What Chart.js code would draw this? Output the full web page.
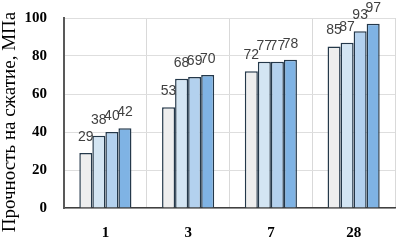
<!DOCTYPE html>
<html>
<head>
<meta charset="utf-8">
<script src="https://cdn.jsdelivr.net/npm/chart.js@4"></script>
<style>
  html, body { margin: 0; padding: 0; background: #fff; }
  #wrap { width: 397px; height: 240px; }
</style>
</head>
<body>
<div id="wrap"><canvas id="chart" width="397" height="240"></canvas></div>
<script>
// данные
const days = ['1', '3', '7', '28'];
const serie1 = [29, 53, 72, 85];
const serie2 = [38, 68, 77, 87];
const serie3 = [40, 69, 77, 93];
const serie4 = [42, 70, 78, 97];
const yTitle = 'Прочность на сжатие, МПа';

const colores = ['#eeeeee', '#d3e5f3', '#b3d1ee', '#7fb3e4'];
const borde = '#24384a';

// etiquetas encima de cada barra
const etiquetas = {
    id: 'etiquetas',
    afterDatasetsDraw(chart) {
        const ctx = chart.ctx;
        ctx.save();
        ctx.font = '14px "Liberation Sans", Arial, sans-serif';
        ctx.fillStyle = '#404040';
        ctx.textAlign = 'center';
        ctx.textBaseline = 'middle';
        chart.data.datasets.forEach((ds, i) => {
            chart.getDatasetMeta(i).data.forEach((bar, j) => {
                ctx.fillText(String(ds.data[j]), bar.x, bar.y - 16);
            });
        });
        ctx.restore();
    }
};

// título del eje Y (rotado, a la izquierda)
const tituloY = {
    id: 'tituloY',
    afterDraw(chart) {
        const ctx = chart.ctx;
        ctx.save();
        ctx.translate(10, 122);
        ctx.rotate(-Math.PI / 2);
        ctx.font = '19px "Liberation Serif", "Times New Roman", serif';
        ctx.fillStyle = '#000';
        ctx.textAlign = 'center';
        ctx.textBaseline = 'middle';
        ctx.fillText(yTitle, 0, 0);
        ctx.restore();
    }
};

const datasets = [serie1, serie2, serie3, serie4].map((d, i) => ({
    data: d,
    backgroundColor: colores[i],
    borderColor: borde,
    borderWidth: 1.5,
    borderSkipped: 'bottom',
    categoryPercentage: 0.63,
    barPercentage: 1.0
}));

new Chart(document.getElementById('chart').getContext('2d'), {
    type: 'bar',
    data: { labels: days, datasets: datasets },
    options: {
        responsive: false, animation: false,
        layout: { autoPadding: false, padding: { top: 18, right: 2, bottom: 0, left: 0 } },
        plugins: { legend: { display: false }, tooltip: { enabled: false } },
        scales: {
            x: {
                grid: { color: '#d9d9d9', drawTicks: false, offset: true },
                border: { color: '#404040', width: 1.5 },
                ticks: {
                    padding: 16, color: '#000',
                    font: { family: '"Liberation Serif", "Times New Roman", serif', size: 15, weight: 'bold' }
                },
                afterFit: (s) => { s.height = 32; s.paddingTop = 0; }
            },
            y: {
                min: 0, max: 100,
                grid: { color: '#dedede', drawTicks: false },
                border: { color: '#595959', width: 2 },
                ticks: {
                    stepSize: 10, padding: 17, color: '#000',
                    callback: (v) => (v % 20 === 0 ? v : ''),
                    font: { family: '"Liberation Serif", "Times New Roman", serif', size: 15, weight: 'bold' }
                },
                afterFit: (s) => { s.width = 64; s.paddingTop = 0; }
            }
        }
    },
    plugins: [etiquetas, tituloY]
});
</script>
</body>
</html>
